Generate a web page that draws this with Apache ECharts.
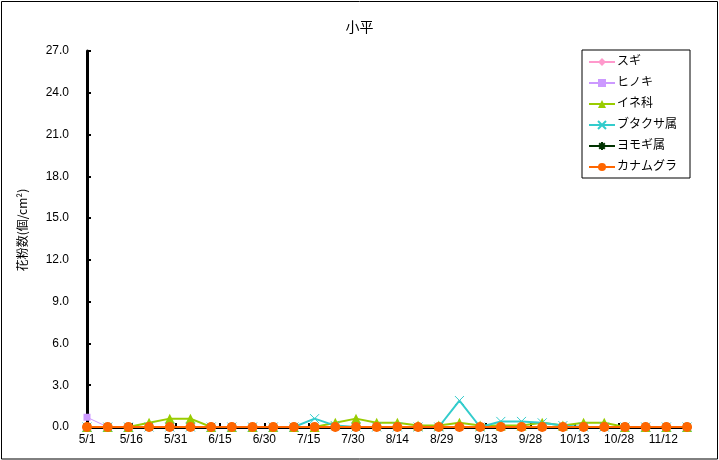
<!DOCTYPE html>
<html style="height: 100%">
<head>
    <meta charset="utf-8">
    <script src="https://cdn.jsdelivr.net/npm/echarts@6/dist/echarts.min.js"></script>
</head>
<body style="height: 100%; margin: 0; background: #fff">
    <div id="main" style="width: 719px; height: 460px"></div>
    <script type="text/javascript">
        // weekly sampling dates
        var dates = ['5/1', '5/8', '5/15', '5/22', '5/29', '6/5', '6/12', '6/19', '6/26', '7/3',
            '7/10', '7/17', '7/24', '7/31', '8/7', '8/14', '8/21', '8/28', '9/4', '9/11',
            '9/18', '9/25', '10/2', '10/9', '10/16', '10/23', '10/30', '11/6', '11/13', '11/20'];

        var sugi = [0, 0, 0, 0, 0, 0, 0, 0, 0, 0, 0, 0, 0, 0, 0, 0, 0, 0, 0, 0, 0, 0, 0, 0, 0, 0, 0, 0, 0, 0];
        var hinoki = [0.7, 0, 0, 0, 0, 0, 0, 0, 0, 0, 0, 0, 0, 0, 0, 0, 0, 0, 0, 0, 0, 0, 0, 0, 0, 0, 0, 0, 0, 0];
        var ine = [0, 0, 0, 0.3, 0.6, 0.6, 0, 0, 0, 0, 0, 0, 0.3, 0.6, 0.3, 0.3, 0.1, 0.1, 0.3, 0.1,
            0.1, 0.1, 0.3, 0.1, 0.3, 0.3, 0, 0, 0, 0];
        var butakusa = [0, 0, 0, 0, 0, 0, 0, 0, 0, 0, 0, 0.6, 0.1, 0, 0, 0, 0, 0, 1.9, 0,
            0.4, 0.4, 0.3, 0.1, 0, 0, 0, 0, 0, 0];
        var yomogi = [0, 0, 0, 0, 0, 0, 0, 0, 0, 0, 0, 0, 0, 0, 0, 0, 0, 0, 0, 0, 0, 0, 0, 0, 0, 0, 0, 0, 0, 0];
        var kanamugura = [0, 0, 0, 0, 0, 0, 0, 0, 0, 0, 0, 0, 0, 0, 0, 0, 0, 0, 0, 0, 0, 0, 0, 0, 0, 0, 0, 0, 0, 0];

        var seriesNames = ['スギ', 'ヒノキ', 'イネ科', 'ブタクサ属', 'ヨモギ属', 'カナムグラ'];

        var BASE = Date.UTC(2000, 4, 1);
        function dayOf(s) {
            var p = s.split('/');
            return (Date.UTC(2000, +p[0] - 1, +p[1]) - BASE) / 86400000;
        }
        function pairs(vals) {
            return vals.map(function (v, i) { return [dayOf(dates[i]), v]; });
        }

        var chartDom = document.getElementById('main');
        var myChart = echarts.init(chartDom);
        var font = '"Liberation Sans", "Noto Sans CJK JP", sans-serif';

        var option = {
            animation: false,
            backgroundColor: '#fff',
            textStyle: { fontFamily: font, color: '#000' },
            graphic: [{
                type: 'rect',
                shape: { x: 1.5, y: 1.5, width: 716, height: 457.5 },
                style: { fill: 'none', stroke: '#000', lineWidth: 1 },
                z: 100
            }],
            title: {
                text: '小平',
                left: 'center',
                top: 16,
                textStyle: { fontSize: 14, fontWeight: 'normal', color: '#000', fontFamily: font }
            },
            legend: {
                orient: 'vertical',
                left: 582,
                top: 50,
                padding: [6, 13, 5, 6],
                itemGap: 9,
                itemWidth: 26,
                itemHeight: 10,
                borderColor: '#000',
                borderWidth: 1,
                borderRadius: 0,
                backgroundColor: '#fff',
                textStyle: { fontSize: 12, color: '#000', fontFamily: font, padding: [0, 0, 0, -3] },
                data: seriesNames
            },
            grid: { left: 87, right: 29, top: 51, bottom: 33, containLabel: false },
            xAxis: {
                type: 'value',
                min: 0,
                max: 204,
                interval: 15,
                axisLine: { lineStyle: { color: '#000', width: 3 } },
                axisTick: { inside: true, length: 4, lineStyle: { color: '#000', width: 2 } },
                axisLabel: {
                    color: '#000',
                    fontSize: 12,
                    margin: 7,
                    showMaxLabel: false,
                    formatter: function (v) {
                        var d = new Date(BASE + v * 86400000);
                        return (d.getUTCMonth() + 1) + '/' + d.getUTCDate();
                    }
                },
                splitLine: { show: false }
            },
            yAxis: {
                type: 'value',
                min: 0,
                max: 27,
                interval: 3,
                name: '花粉数(個/cm²)',
                nameLocation: 'middle',
                nameRotate: 90,
                nameGap: 59,
                nameTextStyle: { fontSize: 12, color: '#000', fontFamily: '"Noto Sans CJK JP", sans-serif', padding: [0, 0, 0, 18] },
                axisLine: { show: true, lineStyle: { color: '#000', width: 3 } },
                axisTick: { show: true, inside: true, length: 4, lineStyle: { color: '#000', width: 2 } },
                axisLabel: {
                    color: '#000',
                    fontSize: 12,
                    margin: 18,
                    formatter: function (v) { return v.toFixed(1); }
                },
                splitLine: { show: false }
            },
            series: [
                {
                    name: seriesNames[0], type: 'line', data: pairs(sugi),
                    symbol: 'diamond', symbolSize: 5, showAllSymbol: true,
                    lineStyle: { color: '#FF99CC', width: 1 },
                    itemStyle: { color: '#FF99CC' }
                },
                {
                    name: seriesNames[1], type: 'line', data: pairs(hinoki),
                    symbol: 'rect', symbolSize: 7, showAllSymbol: true,
                    lineStyle: { color: '#CC99FF', width: 1 },
                    itemStyle: { color: '#CC99FF' }
                },
                {
                    name: seriesNames[2], type: 'line', data: pairs(ine),
                    symbol: 'triangle', symbolSize: 10, showAllSymbol: true,
                    lineStyle: { color: '#99CC00', width: 2 },
                    itemStyle: { color: '#99CC00' }
                },
                {
                    name: seriesNames[3], type: 'line', data: pairs(butakusa),
                    symbol: 'path://M0,0L10,10M10,0L0,10', symbolSize: 9, showAllSymbol: true,
                    lineStyle: { color: '#33CCCC', width: 2 },
                    itemStyle: { color: '#33CCCC', borderColor: '#33CCCC', borderWidth: 1 }
                },
                {
                    name: seriesNames[4], type: 'line', data: pairs(yomogi),
                    symbol: 'path://M0,5L10,5M5,0L5,10M1.5,1.5L8.5,8.5M8.5,1.5L1.5,8.5', symbolSize: 9, showAllSymbol: true,
                    lineStyle: { color: '#003300', width: 2 },
                    itemStyle: { color: '#003300', borderColor: '#003300', borderWidth: 1 }
                },
                {
                    name: seriesNames[5], type: 'line', data: pairs(kanamugura),
                    symbol: 'circle', symbolSize: 10, showAllSymbol: true,
                    lineStyle: { color: '#FF6600', width: 2 },
                    itemStyle: { color: '#FF6600' }
                }
            ]
        };

        option && myChart.setOption(option);
    </script>
</body>
</html>
